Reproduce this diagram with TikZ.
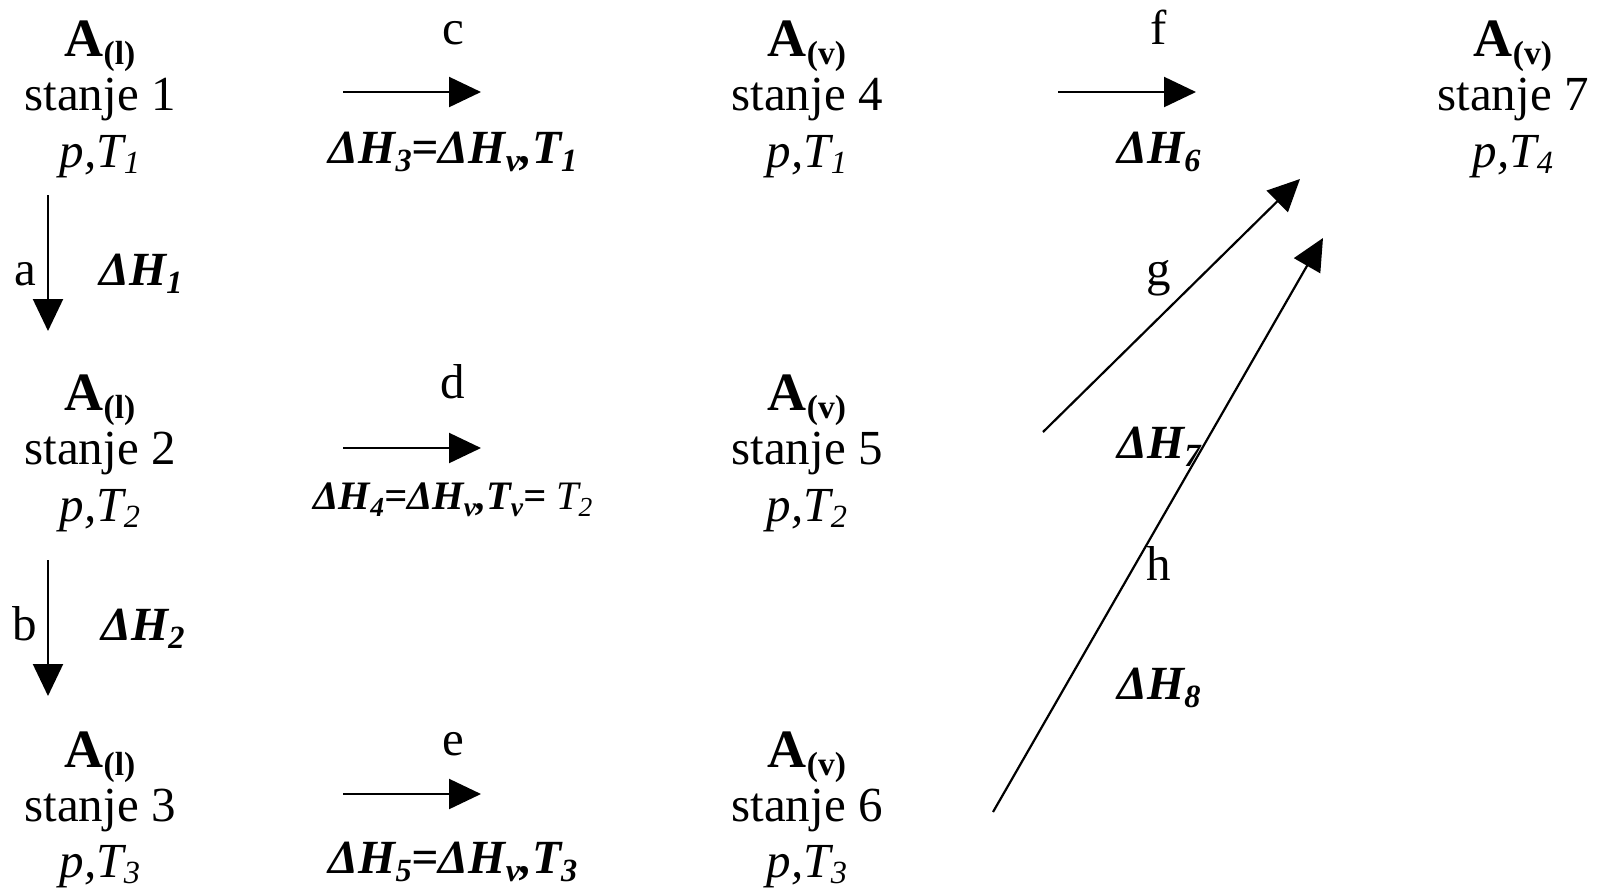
\documentclass[tikz,border=0pt]{standalone}
\usepackage{fontspec}
\setmainfont{Liberation Serif}
\usetikzlibrary{arrows.meta}
\newcommand{\sbs}[1]{\raisebox{-0.18em}{\scalebox{0.68}{#1}}}
\newcommand{\psub}[1]{\raisebox{-0.14em}{\scalebox{0.66}{#1}}}
\newcommand{\asub}[1]{\raisebox{-0.16em}{\scalebox{0.62}{#1}}}
\tikzset{
  txt/.style={inner sep=0pt, anchor=base, font=\fontsize{24.5}{28}\selectfont},
  big/.style={inner sep=0pt, anchor=base, font=\fontsize{27}{30}\selectfont\bfseries},
  dh/.style={inner sep=0pt, anchor=base, font=\fontsize{23.8}{27}\selectfont\bfseries\itshape},
  dhs/.style={inner sep=0pt, anchor=base, font=\fontsize{20.2}{24}\selectfont\bfseries\itshape},
  arr/.style={line width=1.1pt, -{Triangle[length=16pt,width=15pt]}},
}
\begin{document}
\begin{tikzpicture}[x=0.5pt,y=-0.5pt]
\useasboundingbox (0,0) rectangle (1597,890);
% column 1
\node[big] (s1a) at (100,56) {A\asub{(l)}};
\node[txt] (s1b) at (100,110) {stanje 1};
\node[txt] (s1c) at (100,167) {\textit{p,T\psub{1}}};
\node[big] (s2a) at (100,410) {A\asub{(l)}};
\node[txt] (s2b) at (100,464) {stanje 2};
\node[txt] (s2c) at (100,521) {\textit{p,T\psub{2}}};
\node[big] (s3a) at (100,767) {A\asub{(l)}};
\node[txt] (s3b) at (100,821) {stanje 3};
\node[txt] (s3c) at (100,877) {\textit{p,T\psub{3}}};
% column 3
\node[big] (s4a) at (807,56) {A\asub{(v)}};
\node[txt] (s4b) at (807,110) {stanje 4};
\node[txt] (s4c) at (807,167) {\textit{p,T\psub{1}}};
\node[big] (s5a) at (807,410) {A\asub{(v)}};
\node[txt] (s5b) at (807,464) {stanje 5};
\node[txt] (s5c) at (807,521) {\textit{p,T\psub{2}}};
\node[big] (s6a) at (807,767) {A\asub{(v)}};
\node[txt] (s6b) at (807,821) {stanje 6};
\node[txt] (s6c) at (807,877) {\textit{p,T\psub{3}}};
% column 5
\node[big] (s7a) at (1513,56) {A\asub{(v)}};
\node[txt] (s7b) at (1513,110) {stanje 7};
\node[txt] (s7c) at (1513,167) {\textit{p,T\psub{4}}};
% horizontal arrows
\coordinate (c0) at (343,92);  \coordinate (c1) at (481,92);
\coordinate (d0) at (343,448); \coordinate (d1) at (481,448);
\coordinate (e0) at (343,794); \coordinate (e1) at (481,794);
\coordinate (f0) at (1058,92); \coordinate (f1) at (1196,92);
\draw[arr] (c0) -- (c1);
\draw[arr] (d0) -- (d1);
\draw[arr] (e0) -- (e1);
\draw[arr] (f0) -- (f1);
\node[txt] (lc) at (453,44) {c};
\node[txt] (ld) at (453,398) {d};
\node[txt] (le) at (453,755) {e};
\node[txt] (lf) at (1159,44) {f};
\node[dh] (h3) at (453,163) {ΔH\sbs{3}=ΔH\sbs{v},T\sbs{1}};
\node[dhs] (h4) at (453,509) {ΔH\sbs{4}=ΔH\sbs{v},T\sbs{v}=\mdseries\ T\sbs{2}};
\node[dh] (h5) at (453,873) {ΔH\sbs{5}=ΔH\sbs{v},T\sbs{3}};
\node[dh] (h6) at (1159,163) {ΔH\sbs{6}};
% vertical arrows
\coordinate (a0) at (48,195); \coordinate (a1) at (48,331);
\coordinate (b0) at (48,560); \coordinate (b1) at (48,696);
\draw[arr] (a0) -- (a1);
\draw[arr] (b0) -- (b1);
\node[txt] (la) at (25,285) {a};
\node[txt] (lb) at (25,640) {b};
\node[dh, anchor=base west] (h1) at (99,285) {ΔH\sbs{1}};
\node[dh, anchor=base west] (h2) at (101,640) {ΔH\sbs{2}};
% diagonal arrows
\coordinate (g0) at (1043,432); \coordinate (g1) at (1300,179);
\coordinate (k0) at (993,812);  \coordinate (k1) at (1323,238);
\draw[arr] (g0) -- (g1);
\draw[arr] (k0) -- (k1);
\node[txt] (lg) at (1159,285) {g};
\node[txt] (lh) at (1159,580) {h};
\node[dh, anchor=base west] (h7) at (1117,458) {ΔH\sbs{7}};
\node[dh, anchor=base west] (h8) at (1117,699) {ΔH\sbs{8}};
\end{tikzpicture}
\end{document}
